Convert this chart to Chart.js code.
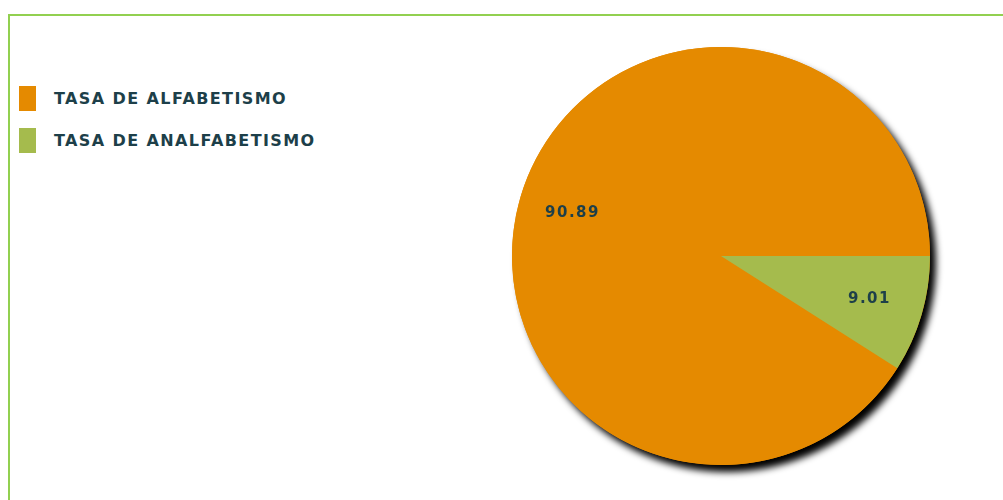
<!DOCTYPE html>
<html>
<head>
<meta charset="utf-8">
<script src="https://cdn.jsdelivr.net/npm/chart.js@4"></script>
<style>
  html, body { margin: 0; padding: 0; background: #fff; overflow: hidden; }
  body { width: 1003px; height: 500px; position: relative; }
  .frame {
    position: absolute; left: 8px; top: 14px; width: 1100px; height: 600px;
    border-top: 2px solid #92d050; border-left: 2px solid #92d050;
  }
  #legend { position: absolute; left: 19px; top: 86px; margin: 0; padding: 0; list-style: none; }
  #legend li { height: 25px; margin-bottom: 17px; display: flex; align-items: center; }
  #legend .box { width: 17px; height: 25px; margin-right: 18px; }
  #legend .txt {
    font: bold 16px "DejaVu Sans", sans-serif; color: #1d3f49; letter-spacing: 1.4px;
  }
  #wrap { position: absolute; left: 0; top: 0; width: 1003px; height: 500px; }
</style>
</head>
<body>
<div class="frame"></div>
<ul id="legend"></ul>
<div id="wrap"><canvas id="pieChart"></canvas></div>
<script>
var labels = ['TASA DE ALFABETISMO', 'TASA DE ANALFABETISMO'];
var values = [90.89, 9.01];
var colors = ['#e58a00', '#a5bb4d'];

document.addEventListener('DOMContentLoaded', function () {
    // legend built from the same arrays
    var ul = document.getElementById('legend');
    labels.forEach(function (l, i) {
        var li = document.createElement('li');
        li.innerHTML = '<span class="box" style="background:' + colors[i] + '"></span><span class="txt">' + l + '</span>';
        ul.appendChild(li);
    });

    // dark drop shadow behind the whole pie
    var shadowPlugin = {
        id: 'pieShadow',
        beforeDatasetsDraw: function (chart) {
            var arc = chart.getDatasetMeta(0).data[0];
            if (!arc) return;
            var c = chart.ctx;
            c.save();
            c.shadowColor = '#000';
            c.shadowBlur = 7;
            c.shadowOffsetX = 6;
            c.shadowOffsetY = 7;
            c.fillStyle = colors[0];
            c.beginPath();
            c.arc(arc.x, arc.y, arc.outerRadius, 0, Math.PI * 2);
            c.fill();
            c.restore();
        }
    };

    // value labels inside each slice
    var valuePlugin = {
        id: 'sliceValues',
        afterDatasetsDraw: function (chart) {
            var c = chart.ctx;
            c.save();
            c.font = 'bold 15px "DejaVu Sans", sans-serif';
            c.fillStyle = '#1d3f49';
            c.textAlign = 'center';
            c.textBaseline = 'middle';
            if ('letterSpacing' in c) c.letterSpacing = '1.5px';
            chart.getDatasetMeta(0).data.forEach(function (arc, i) {
                var mid = (arc.startAngle + arc.endAngle) / 2;
                var r = arc.outerRadius * 0.74;
                c.fillText(values[i].toFixed(2), arc.x + Math.cos(mid) * r, arc.y + Math.sin(mid) * r);
            });
            c.restore();
        }
    };

    var ctx = document.getElementById('pieChart').getContext('2d');
    var pieChart = new Chart(ctx, {
        type: 'pie',
        data: {
            labels: labels,
            datasets: [{
                data: values,
                backgroundColor: colors,
                borderWidth: 0
            }]
        },
        options: {
            responsive: true,
            maintainAspectRatio: false,
            animation: false,
            rotation: 90 + values[1] / (values[0] + values[1]) * 360,
            layout: {
                padding: { left: 512, right: 73, top: 47, bottom: 35 }
            },
            plugins: {
                legend: { display: false },
                tooltip: { enabled: false }
            }
        },
        plugins: [shadowPlugin, valuePlugin]
    });
});
</script>
</body>
</html>
